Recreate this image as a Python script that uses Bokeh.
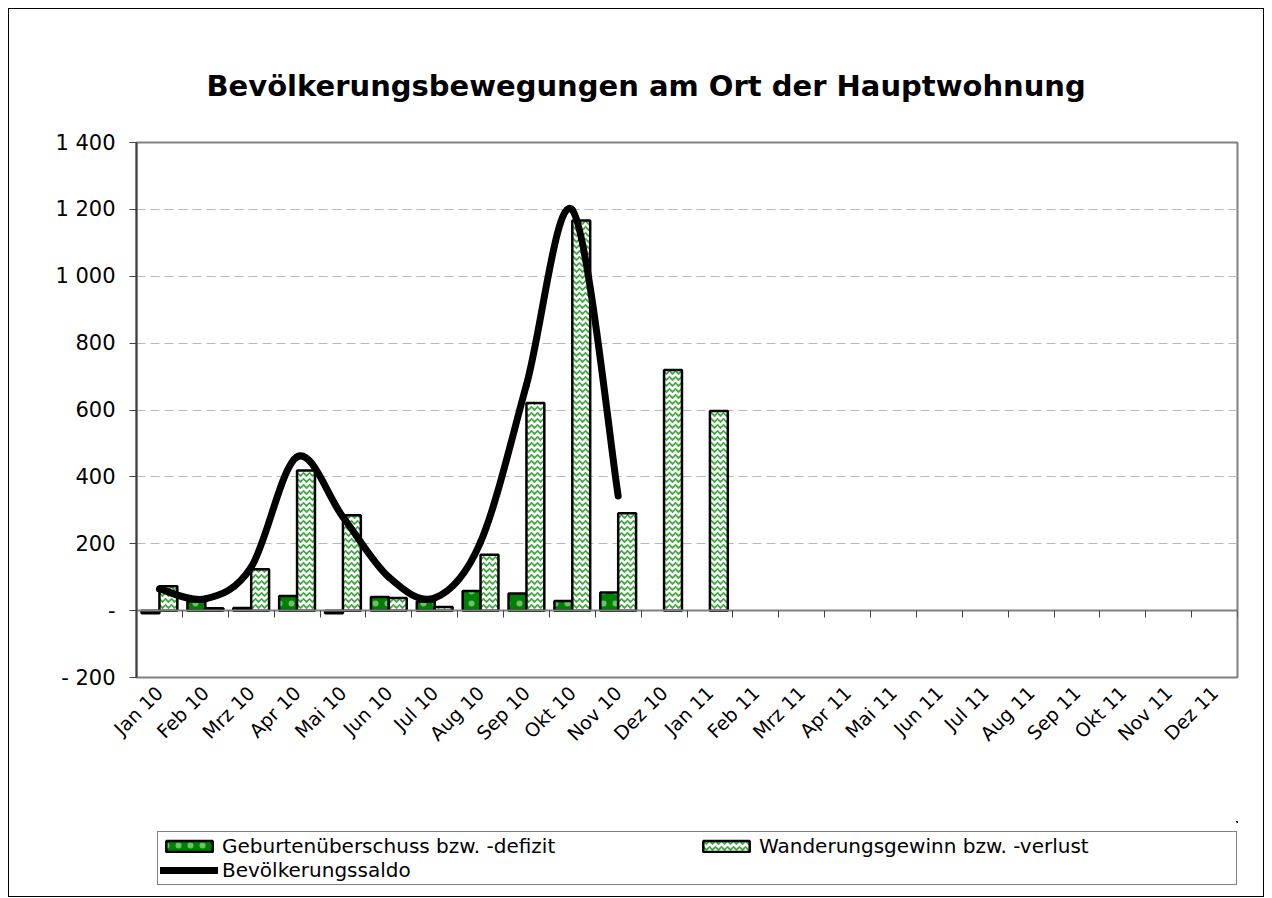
import math
from bokeh.plotting import figure
from bokeh.layouts import column
from bokeh.models import (FixedTicker, LinearAxis, Legend, LegendItem, Range1d,
                          ColumnDataSource)
from bokeh.embed import file_html
from bokeh.resources import INLINE

# ---------------- data ----------------
months = ["Jan 10", "Feb 10", "Mrz 10", "Apr 10", "Mai 10", "Jun 10", "Jul 10",
          "Aug 10", "Sep 10", "Okt 10", "Nov 10", "Dez 10",
          "Jan 11", "Feb 11", "Mrz 11", "Apr 11", "Mai 11", "Jun 11", "Jul 11",
          "Aug 11", "Sep 11", "Okt 11", "Nov 11", "Dez 11"]

geburten = [-8, 28, 8, 44, -8, 41, 27, 59, 51, 29, 54, None, None,
            None, None, None, None, None, None, None, None, None, None, None]
wanderung = [73, 7, 124, 419, 285, 38, 11, 167, 621, 1167, 291, 720, 597,
             None, None, None, None, None, None, None, None, None, None, None]
saldo = [65, 35, 130, 460, 280, 100, 38, 205, 675, 1198, 343]

y_ticks = [-200, 0, 200, 400, 600, 800, 1000, 1200, 1400]
y_tick_labels = ["- 200", "-", "200", "400", "600", "800", "1 000", "1 200", "1 400"]

title_text = "Bevölkerungsbewegungen am Ort der Hauptwohnung"
label_geb = "Geburtenüberschuss bzw. -defizit"
label_wan = "Wanderungsgewinn bzw. -verlust"
label_sal = "Bevölkerungssaldo"

FONT = "DejaVu Sans"

GEB_STYLE = dict(fill_color="#008000", line_color="black", line_width=2.5,
                 hatch_pattern="dot", hatch_color="#6cc06c", hatch_scale=12,
                 hatch_weight=0.4)
WAN_STYLE = dict(fill_color="white", line_color="black", line_width=2.5,
                 hatch_pattern="horizontal_wave", hatch_color="#45a845",
                 hatch_scale=6, hatch_weight=1.8)
SAL_STYLE = dict(line_color="black", line_width=7, line_cap="round")

# ---------------- main figure ----------------
n = len(months)
p = figure(width=1254, height=812, output_backend="svg", toolbar_location=None,
           x_range=Range1d(0, n), y_range=Range1d(-200, 1400),
           min_border_left=127, min_border_right=26, min_border_top=133,
           min_border_bottom=144, background_fill_color="white",
           border_fill_color="white")

p.outline_line_color = "#808080"
p.outline_line_width = 2

p.title.text = title_text
p.title.text_font = FONT
p.title.text_font_size = "29px"
p.title.text_font_style = "bold"
p.title.text_color = "black"
p.title.align = "left"
p.title.offset = 70
p.title.standoff = 80

# ---------------- bars ----------------
centers = [i + 0.5 for i in range(n)]
bw = 0.39
src = ColumnDataSource(dict(
    xg=[c - bw / 2 for c in centers],
    xw=[c + bw / 2 for c in centers],
    geb=[float("nan") if v is None else v for v in geburten],
    wan=[float("nan") if v is None else v for v in wanderung],
))

p.vbar(x="xg", top="geb", bottom=0, width=bw, source=src, **GEB_STYLE)
p.vbar(x="xw", top="wan", bottom=0, width=bw, source=src, **WAN_STYLE)

# ---------------- smoothed saldo line (Bezier through data points) ----------------
m = len(saldo)
xs = centers[:m]
x0, y0, x1, y1, cx0, cy0, cx1, cy1 = [], [], [], [], [], [], [], []
for i in range(m - 1):
    ip = max(i - 1, 0)
    inn = min(i + 2, m - 1)
    x0.append(xs[i]); y0.append(saldo[i])
    x1.append(xs[i + 1]); y1.append(saldo[i + 1])
    cx0.append(xs[i] + (xs[i + 1] - xs[ip]) / 6)
    cy0.append(saldo[i] + (saldo[i + 1] - saldo[ip]) / 6)
    cx1.append(xs[i + 1] - (xs[inn] - xs[i]) / 6)
    cy1.append(saldo[i + 1] - (saldo[inn] - saldo[i]) / 6)
bsrc = ColumnDataSource(dict(x0=x0, y0=y0, x1=x1, y1=y1,
                             cx0=cx0, cy0=cy0, cx1=cx1, cy1=cy1))
p.bezier(x0="x0", y0="y0", x1="x1", y1="y1", cx0="cx0", cy0="cy0",
         cx1="cx1", cy1="cy1", source=bsrc, **SAL_STYLE)

# ---------------- axes ----------------
p.xgrid.visible = False
p.ygrid.ticker = FixedTicker(ticks=y_ticks)
p.ygrid.grid_line_color = "#b8b8b8"
p.ygrid.grid_line_dash = "9 5"
p.ygrid.grid_line_width = 1

xa = p.xaxis[0]
xa.ticker = FixedTicker(ticks=centers)
xa.major_label_overrides = {c: months[i] for i, c in enumerate(centers)}
xa.major_label_orientation = math.pi / 4
xa.major_tick_out = 0
xa.major_tick_in = 0
xa.minor_tick_out = 0
xa.minor_tick_in = 0
xa.axis_line_color = None
xa.major_label_text_font = FONT
xa.major_label_text_font_size = "19px"
xa.major_label_text_color = "black"
xa.major_label_standoff = 12

# category axis crossing at zero with tick marks between categories
zax = LinearAxis(fixed_location=0, ticker=FixedTicker(ticks=list(range(n + 1))))
zax.major_label_text_font_size = "0px"
zax.major_label_overrides = {i: "" for i in range(n + 1)}
zax.major_tick_out = 7
zax.major_tick_in = 0
zax.minor_tick_out = 0
zax.minor_tick_in = 0
zax.axis_line_color = "#808080"
zax.axis_line_width = 2
zax.major_tick_line_color = "#404040"
zax.major_label_standoff = 0
p.add_layout(zax, "below")

ya = p.yaxis[0]
ya.ticker = FixedTicker(ticks=y_ticks)
ya.major_label_overrides = {v: t for v, t in zip(y_ticks, y_tick_labels)}
ya.major_tick_out = 7
ya.major_tick_in = 0
ya.minor_tick_out = 0
ya.minor_tick_in = 0
ya.axis_line_color = "#404040"
ya.axis_line_width = 2
ya.major_tick_line_color = "#404040"
ya.major_label_text_font = FONT
ya.major_label_text_font_size = "21px"
ya.major_label_text_color = "black"
ya.major_label_standoff = 14

# ---------------- legend strip (same data, drawn out of view) ----------------
lp = figure(width=1254, height=75, output_backend="svg", toolbar_location=None,
            x_range=Range1d(-1000, -999), y_range=Range1d(-1000, -999),
            x_axis_type=None, y_axis_type=None, min_border=0,
            background_fill_color="white", border_fill_color="white")
lp.grid.visible = False
lp.outline_line_color = None

lsrc = ColumnDataSource(dict(x=xs, y=saldo))
lg_geb = lp.vbar(x="xg", top="geb", bottom=0, width=bw, source=src, **GEB_STYLE)
lg_wan = lp.vbar(x="xw", top="wan", bottom=0, width=bw, source=src, **WAN_STYLE)
lg_sal = lp.line(x="x", y="y", source=lsrc, **SAL_STYLE)

legend = Legend(items=[LegendItem(label=label_geb, renderers=[lg_geb]),
                       LegendItem(label=label_wan, renderers=[lg_wan]),
                       LegendItem(label=label_sal, renderers=[lg_sal])],
                orientation="horizontal", ncols=2,
                location=(21, 11))
legend.label_text_font = FONT
legend.label_text_font_size = "20px"
legend.label_text_color = "black"
legend.label_width = 475
legend.label_standoff = 4
legend.glyph_width = 58
legend.glyph_height = 14
legend.spacing = 0
legend.padding = 2
legend.margin = 0
legend.border_line_color = "black"
legend.border_line_width = 1
legend.background_fill_color = "white"
legend.background_fill_alpha = 1
lp.add_layout(legend)

layout = column(p, lp, spacing=0,
                styles={"border": "1px solid black", "margin-left": "8px",
                        "margin-top": "8px"})

open("out.html", "w").write(file_html(layout, INLINE))
